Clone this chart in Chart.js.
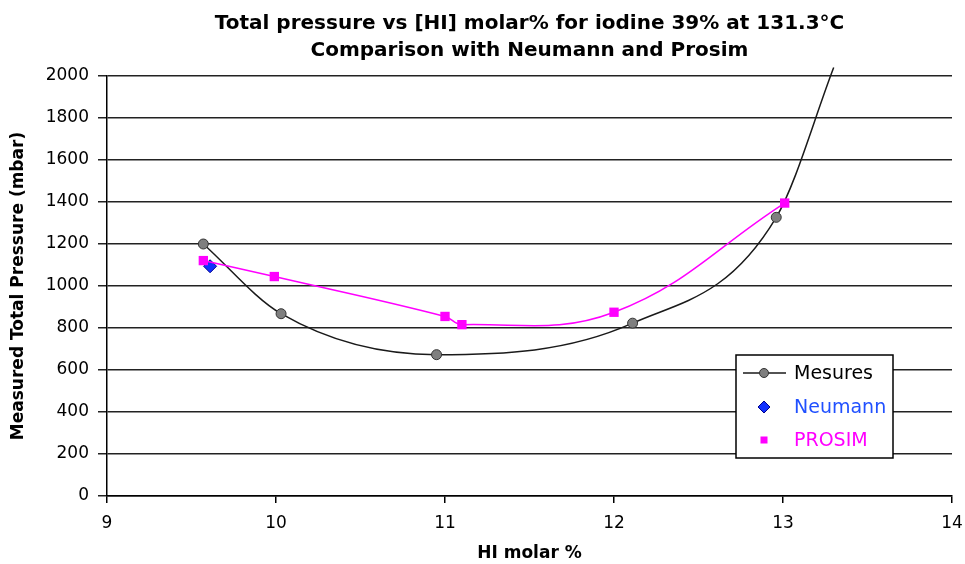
<!DOCTYPE html>
<html>
<head>
<meta charset="utf-8">
<script src="https://cdn.jsdelivr.net/npm/chart.js@4/dist/chart.umd.min.js"></script>
<style>
    html, body { margin: 0; padding: 0; background: #fff; }
    #wrap { width: 965px; height: 564px; }
</style>
</head>
<body>
<div id="wrap"><canvas id="chart" width="965" height="564"></canvas></div>
<script>
// values
// last Mesures point is where the smoothed curve leaves the top of the plot (no marker)
const mesuresX = [9.57, 10.03, 10.95, 12.11, 12.96, 13.30];
const mesuresY = [1200, 868, 673, 823, 1327, 2040];
const neumannX = [9.61];
const neumannY = [1094];
const prosimX = [9.57, 9.99, 11.0, 11.1, 12.0, 13.01];
const prosimY = [1121, 1045, 855, 816, 875, 1395];

const xTicks = [9, 10, 11, 12, 13, 14];
const yTicks = [0, 200, 400, 600, 800, 1000, 1200, 1400, 1600, 1800, 2000];

const FONT = "'DejaVu Sans', 'Liberation Sans', sans-serif";

function toPoints(xs, ys) {
    return xs.map((x, i) => ({ x: x, y: ys[i] }));
}

// legend drawn as a framed box inside the plot, like the original spreadsheet chart
const legendLine = [true, false, false];
const legendText = ["#000000", "#2050ff", "#ff00ff"];

const boxLegend = {
    id: "boxLegend",
    afterDatasetsDraw(chart) {
        const ctx = chart.ctx;
        const area = chart.chartArea;
        const w = 157, h = 103;
        const x0 = area.right - 59 - w;
        const y0 = area.bottom - 38 - h;
        const rows = [18, 52, 85];

        ctx.save();
        ctx.fillStyle = "#ffffff";
        ctx.fillRect(x0, y0, w, h);
        ctx.strokeStyle = "#000000";
        ctx.lineWidth = 1.5;
        ctx.strokeRect(x0, y0, w, h);

        chart.data.datasets.forEach((ds, i) => {
            const cy = y0 + rows[i];
            const cx = x0 + 28;
            if (legendLine[i]) {
                ctx.strokeStyle = ds.borderColor;
                ctx.lineWidth = ds.borderWidth;
                ctx.beginPath();
                ctx.moveTo(x0 + 7, cy);
                ctx.lineTo(x0 + 50, cy);
                ctx.stroke();
            }
            ctx.fillStyle = ds.pointBackgroundColor;
            ctx.strokeStyle = ds.pointBorderColor;
            ctx.lineWidth = 1;
            ctx.beginPath();
            if (ds.pointStyle === "circle") {
                ctx.arc(cx, cy, 4.5, 0, Math.PI * 2);
                ctx.fill();
                ctx.stroke();
            } else if (ds.pointStyle === "rectRot") {
                ctx.moveTo(cx, cy - 6);
                ctx.lineTo(cx + 6, cy);
                ctx.lineTo(cx, cy + 6);
                ctx.lineTo(cx - 6, cy);
                ctx.closePath();
                ctx.fill();
                ctx.stroke();
            } else {
                ctx.fillRect(cx - 3.5, cy - 3.5, 7, 7);
            }
            ctx.fillStyle = legendText[i];
            ctx.font = "19px " + FONT;
            ctx.textAlign = "left";
            ctx.textBaseline = "middle";
            ctx.fillText(ds.label, x0 + 58, cy + 1);
        });
        ctx.restore();
    }
};

new Chart(document.getElementById("chart"), {
    type: "scatter",
    data: {
        datasets: [
            {
                label: "Mesures",
                data: toPoints(mesuresX, mesuresY),
                showLine: true,
                cubicInterpolationMode: "monotone",
                capBezierPoints: false,
                clip: false,
                borderColor: "#1a1a1a",
                borderWidth: 1.5,
                pointStyle: "circle",
                pointRadius: [5, 5, 5, 5, 5, 0],
                pointBackgroundColor: "#7f7f7f",
                pointBorderColor: "#333333",
                pointBorderWidth: 1,
                order: 1
            },
            {
                label: "Neumann",
                data: toPoints(neumannX, neumannY),
                showLine: false,
                pointStyle: "rectRot",
                pointRadius: 6.5,
                pointBackgroundColor: "#1030ff",
                pointBorderColor: "#00008c",
                pointBorderWidth: 1,
                order: 2
            },
            {
                label: "PROSIM",
                data: toPoints(prosimX, prosimY),
                showLine: true,
                tension: 0.4,
                borderColor: "#ff00ff",
                borderWidth: 1.5,
                pointStyle: "rect",
                pointRadius: 6.6,
                pointBackgroundColor: "#ff00ff",
                pointBorderColor: "#ff00ff",
                pointBorderWidth: 0,
                order: 0
            }
        ]
    },
    options: {
        responsive: false,
        animation: false,
        devicePixelRatio: 1,
        layout: { padding: 0 },
        plugins: {
            legend: { display: false },
            tooltip: { enabled: false },
            title: {
                display: true,
                fullSize: false,
                text: ["Total pressure vs [HI] molar% for iodine 39% at 131.3°C", "Comparison with Neumann and Prosim"],
                color: "#000",
                font: { family: FONT, size: 20, weight: "bold", lineHeight: 1.375 },
                padding: { top: 10, bottom: 11 }
            }
        },
        scales: {
            x: {
                type: "linear",
                min: 9,
                max: 14,
                afterBuildTicks: (s) => { s.ticks = xTicks.map((v) => ({ value: v })); },
                afterFit: (s) => { s.height = 68; s.paddingRight = 13; },
                border: { display: true, color: "#000", width: 1.5 },
                grid: { drawOnChartArea: false, drawTicks: true, tickLength: 7, color: "#000", lineWidth: 1.5 },
                ticks: { color: "#000", padding: 10, font: { family: FONT, size: 17 } },
                title: {
                    display: true,
                    text: "HI molar %",
                    color: "#000",
                    font: { family: FONT, size: 17, weight: "bold" },
                    padding: { top: 0, bottom: 0 }
                }
            },
            y: {
                type: "linear",
                min: 0,
                max: 2000,
                afterBuildTicks: (s) => { s.ticks = yTicks.map((v) => ({ value: v })); },
                afterFit: (s) => { s.width = 107; },
                border: { display: true, color: "#000", width: 1.5 },
                grid: { drawOnChartArea: true, drawTicks: true, tickLength: 9, color: "#222", lineWidth: 1.5 },
                ticks: {
                    color: "#000",
                    padding: 9,
                    font: { family: FONT, size: 17 },
                    callback: (v) => String(v)
                },
                title: {
                    display: true,
                    text: "Measured Total Pressure (mbar)",
                    color: "#000",
                    font: { family: FONT, size: 17, weight: "bold" },
                    padding: { top: 8, bottom: 0 }
                }
            }
        }
    },
    plugins: [boxLegend]
});
</script>
</body>
</html>
